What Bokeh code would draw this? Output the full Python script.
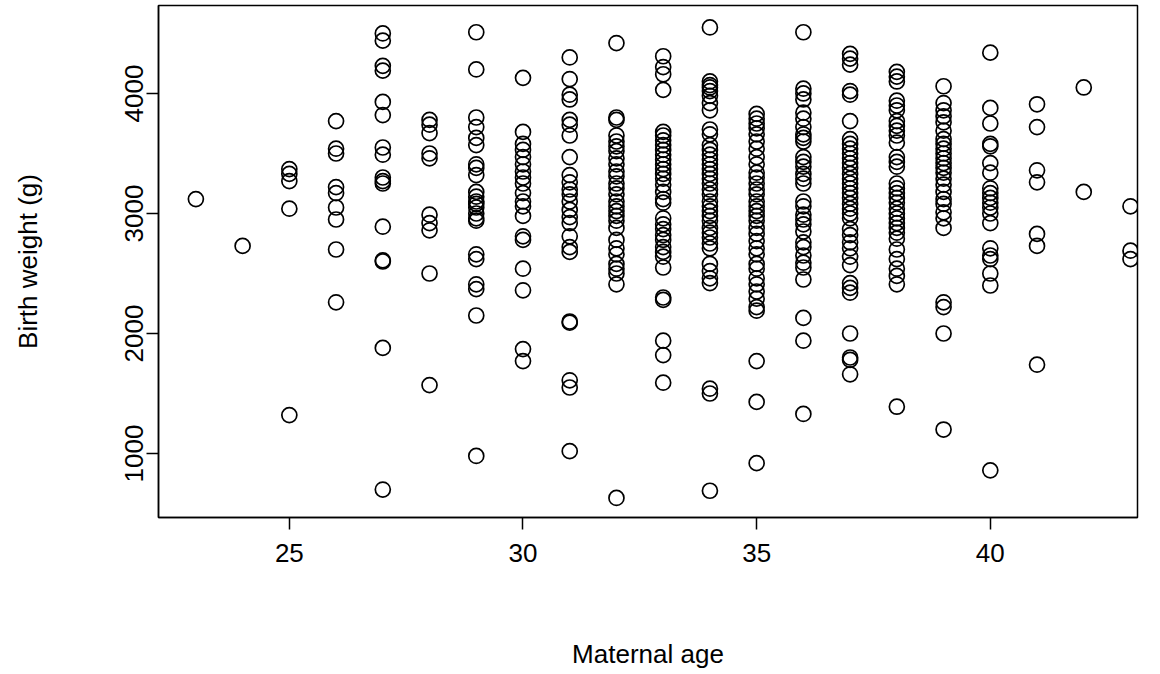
from bokeh.plotting import figure
from bokeh.models import ColumnDataSource, FixedTicker
from bokeh.embed import file_html
from bokeh.resources import INLINE

# Birth weight (g) by maternal age (years)
bw23 = [3120]
bw24 = [2730]
bw25 = [3370, 3330, 3270, 3040, 1320]
bw26 = [3770, 3540, 3500, 3220, 3170, 3050, 2950, 2700, 2260]
bw27 = [4500, 4440, 4230, 4190, 3930, 3820, 3550, 3490, 3300, 3270, 3250, 2890, 2610, 2600, 1880, 700]
bw28 = [3780, 3740, 3670, 3500, 3460, 2990, 2920, 2860, 2500, 1570]
bw29 = [4510, 4200, 3800, 3720, 3630, 3570, 3410, 3380, 3320, 3180, 3140, 3100, 3080, 3050, 3000,
        2960, 2940, 2660, 2620, 2410, 2370, 2150, 980]
bw30 = [4130, 3680, 3580, 3530, 3470, 3410, 3350, 3300, 3250, 3170, 3100, 3060, 2980, 2810, 2780,
        2540, 2360, 1870, 1770]
bw31 = [4300, 4120, 3990, 3950, 3780, 3740, 3650, 3470, 3320, 3260, 3200, 3160, 3100, 3030, 2970,
        2920, 2810, 2720, 2680, 2100, 2090, 1610, 1550, 1020]
bw32 = [4420, 3800, 3780, 3650, 3600, 3560, 3520, 3460, 3410, 3350, 3310, 3250, 3210, 3160, 3100,
        3060, 3020, 2980, 2940, 2880, 2780, 2710, 2660, 2580, 2540, 2500, 2410, 630]
bw33 = [4310, 4220, 4160, 4030, 3680, 3650, 3610, 3570, 3530, 3490, 3450, 3410, 3370, 3330, 3290,
        3240, 3180, 3120, 3090, 2960, 2910, 2870, 2820, 2780, 2720, 2680, 2640, 2550, 2300, 2280,
        1940, 1820, 1590]
bw34 = [4550, 4100, 4070, 4050, 4020, 3980, 3920, 3860, 3700, 3660, 3570, 3530, 3490, 3450, 3410,
        3370, 3330, 3290, 3250, 3200, 3160, 3100, 3060, 3020, 2980, 2940, 2880, 2840, 2800, 2750,
        2710, 2580, 2520, 2460, 2420, 1540, 1500, 690]
bw35 = [3830, 3790, 3750, 3710, 3660, 3600, 3540, 3470, 3410, 3340, 3300, 3250, 3200, 3160, 3100,
        3060, 3020, 2980, 2940, 2880, 2830, 2770, 2710, 2660, 2580, 2540, 2460, 2410, 2350, 2290,
        2220, 2190, 1770, 1430, 920]
bw36 = [4510, 4040, 4000, 3950, 3840, 3790, 3720, 3660, 3630, 3600, 3470, 3430, 3390, 3330, 3290,
        3250, 3100, 3060, 2990, 2950, 2910, 2850, 2760, 2720, 2650, 2590, 2550, 2450, 2130, 1940, 1330]
bw37 = [4330, 4290, 4240, 4020, 3990, 3770, 3620, 3580, 3540, 3500, 3460, 3420, 3380, 3330, 3290,
        3250, 3210, 3170, 3130, 3080, 3040, 3000, 2960, 2870, 2820, 2760, 2710, 2640, 2570, 2420,
        2380, 2340, 2000, 1800, 1780, 1660]
bw38 = [4180, 4140, 4100, 3940, 3900, 3860, 3770, 3730, 3690, 3650, 3590, 3470, 3430, 3390, 3250,
        3210, 3170, 3130, 3090, 3040, 3000, 2960, 2920, 2880, 2840, 2790, 2700, 2620, 2540, 2480,
        2410, 1390]
bw39 = [4060, 3920, 3860, 3810, 3760, 3690, 3620, 3580, 3540, 3500, 3460, 3420, 3380, 3340, 3290,
        3240, 3180, 3120, 3080, 3010, 2960, 2880, 2260, 2220, 2000, 1200]
bw40 = [4340, 3880, 3750, 3580, 3560, 3420, 3340, 3210, 3170, 3130, 3090, 3050, 3000, 2920, 2710,
        2650, 2620, 2500, 2400, 860]
bw41 = [3910, 3720, 3360, 3260, 2830, 2730, 1740]
bw42 = [4050, 3180]
bw43 = [3060, 2690, 2620]

ages = list(range(23, 44))
groups = [bw23, bw24, bw25, bw26, bw27, bw28, bw29, bw30, bw31, bw32, bw33,
          bw34, bw35, bw36, bw37, bw38, bw39, bw40, bw41, bw42, bw43]

x_ticks = [25, 30, 35, 40]
y_ticks = [1000, 2000, 3000, 4000]

xs, ys = [], []
for a, g in zip(ages, groups):
    xs.extend([a] * len(g))
    ys.extend(g)
src = ColumnDataSource(dict(age=xs, bw=ys))

FONT = "Liberation Sans"

p = figure(width=1160, height=674, output_backend="svg", toolbar_location=None,
           x_range=(22.2, 43.15), y_range=(467, 4733),
           min_border_left=158, min_border_right=23, min_border_top=5, min_border_bottom=157,
           x_axis_label="Maternal age", y_axis_label="Birth weight (g)")

p.scatter("age", "bw", source=src, marker="circle", size=15,
          fill_color=None, line_color="black", line_width=1.7)

p.grid.visible = False
p.outline_line_color = "black"
p.outline_line_width = 1.5
p.outline_line_alpha = 1.0
p.background_fill_color = "white"
p.border_fill_color = "white"

p.xaxis.ticker = FixedTicker(ticks=x_ticks)
p.yaxis.ticker = FixedTicker(ticks=y_ticks)

for ax in (p.xaxis[0], p.yaxis[0]):
    ax.axis_line_color = "black"
    ax.axis_line_width = 1.5
    ax.major_tick_line_color = "black"
    ax.major_tick_line_width = 1.5
    ax.major_tick_out = 12
    ax.major_tick_in = 0
    ax.minor_tick_line_color = None
    ax.major_label_text_font = FONT
    ax.major_label_text_font_size = "26px"
    ax.major_label_text_color = "black"
    ax.axis_label_text_font = FONT
    ax.axis_label_text_font_size = "26px"
    ax.axis_label_text_font_style = "normal"
    ax.axis_label_text_color = "black"

p.xaxis.major_label_standoff = 14
p.xaxis.axis_label_standoff = 74
p.yaxis.major_label_orientation = "vertical"
p.yaxis.major_label_standoff = 3
p.yaxis.axis_label_standoff = 80

open("out.html", "w").write(file_html(p, INLINE))
